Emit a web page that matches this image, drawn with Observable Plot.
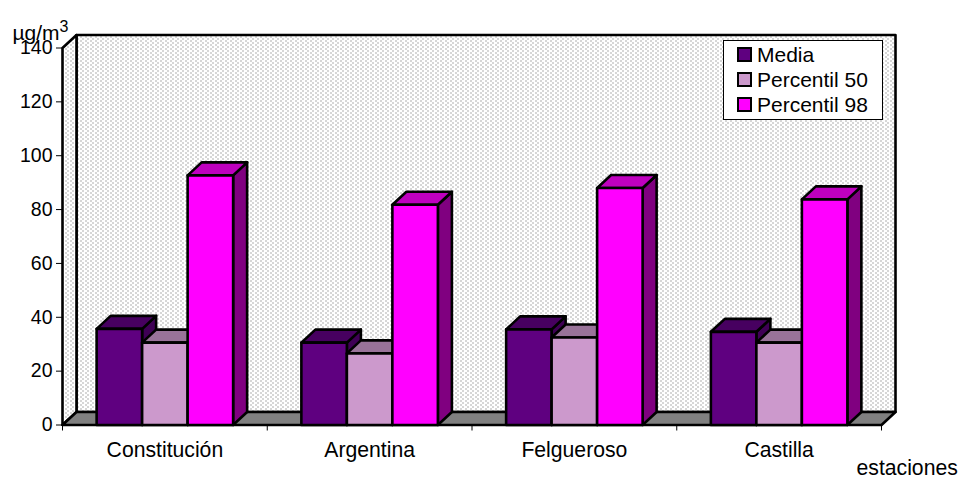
<!DOCTYPE html>
<html>
<head>
<meta charset="utf-8">
<script src="https://cdn.jsdelivr.net/npm/d3@7"></script>
<script src="https://cdn.jsdelivr.net/npm/@observablehq/plot@0.6"></script>
<style>
  html, body { margin: 0; padding: 0; background: #fff; }
  #wrap { position: relative; width: 961px; height: 479px; overflow: hidden; font-family: "Liberation Sans", Arial, sans-serif; color: #000; }
  #legend { position: absolute; left: 723px; top: 40px; width: 160px; height: 80px; box-sizing: border-box;
            border: 1px solid #000; background: #fff; font-size: 21px; padding: 1px 0 0 13px; }
  #legend div { display: flex; align-items: center; height: 25.2px; }
  #legend i { width: 11px; height: 11px; border: 2px solid #000; margin-right: 5px; box-sizing: content-box; display: inline-block; flex: none; }
  svg text { font-family: "Liberation Sans", Arial, sans-serif; }
</style>
</head>
<body>
<div id="wrap"><div id="chart"></div><div id="legend"></div></div>
<script>
const stations = ["Constitución", "Argentina", "Felgueroso", "Castilla"];
const seriesNames = ["Media", "Percentil 50", "Percentil 98"];
const media = [35.7, 30.6, 35.5, 34.6];
const percentil50 = [30.6, 26.6, 32.5, 30.6];
const percentil98 = [92.7, 81.8, 88, 83.8];
const frontColors = ["#5f0080", "#cc99cc", "#ff00ff"];
const topColors = ["#470060", "#997399", "#bf00bf"];
const sideColors = ["#3f0055", "#886688", "#800080"];
const yTicks = [0, 20, 40, 60, 80, 100, 120, 140];

const values = [media, percentil50, percentil98];
const depthX = 14 / 204.75, depthY = 13 / 2.693;  // oblique offset, in data units
const barW = 45.5 / 204.75, pad = (1 - 3 * barW) / 2;
const yMax = 140;
const lineW = 2.6;

const polys = [];
const add = (id, fill, pts) => pts.forEach(([x, y]) => polys.push({id, fill, x, y}));

const walls = [];
const addW = (id, pts) => pts.forEach(([x, y]) => walls.push({id, x, y}));
addW("back", [[depthX, depthY], [4 + depthX, depthY], [4 + depthX, yMax + depthY], [depthX, yMax + depthY]]);
addW("side", [[0, 0], [depthX, depthY], [depthX, yMax + depthY], [0, yMax]]);

const floor = [[0, 0], [depthX, depthY], [4 + depthX, depthY], [4, 0]].map(([x, y]) => ({x, y}));

stations.forEach((st, i) => {
  values.forEach((vals, s) => {
    const x0 = i + pad + s * barW, x1 = x0 + barW, v = vals[i];
    add(`${st}-${s}-side`, sideColors[s], [[x1, 0], [x1 + depthX, depthY], [x1 + depthX, v + depthY], [x1, v]]);
    add(`${st}-${s}-top`, topColors[s], [[x0, v], [x0 + depthX, v + depthY], [x1 + depthX, v + depthY], [x1, v]]);
    add(`${st}-${s}-front`, frontColors[s], [[x0, 0], [x1, 0], [x1, v], [x0, v]]);
  });
});

const chart = Plot.plot({
  width: 961,
  height: 479,
  marginLeft: 62, marginRight: 80, marginTop: 34, marginBottom: 54.5,
  style: {background: "transparent", overflow: "visible"},
  x: {domain: [0, 4], range: [62, 881]},
  y: {domain: [0, yMax], range: [424.5, 47.5]},
  marks: [
    Plot.line(walls, {x: "x", y: "y", z: "id", fill: "url(#dots)", stroke: "#000", strokeWidth: lineW, curve: "linear-closed"}),
    Plot.line(floor, {x: "x", y: "y", fill: "#808080", stroke: "#000", strokeWidth: lineW, curve: "linear-closed"}),
    Plot.axisX({ticks: [0, 1, 2, 3, 4], tickFormat: () => "", tickSize: 6, label: null, stroke: "#000", strokeOpacity: 1}),
    Plot.axisY({ticks: yTicks, tickSize: 6, tickPadding: 4, label: null, fontSize: 19.5, stroke: "#000", strokeOpacity: 1}),
    Plot.line(polys, {x: "x", y: "y", z: "id", fill: "fill", stroke: "#000", strokeWidth: lineW, curve: "linear-closed"}),
    Plot.text(stations, {x: (d, i) => i + 0.5, y: 0, text: d => d, dy: 25, fontSize: 21.2, fill: "#000", lineAnchor: "middle"}),
    Plot.text(["µg/m3"], {x: 0, y: yMax, text: d => d, dx: -50, dy: -15, fontSize: 21, fill: "#000", textAnchor: "start", lineAnchor: "middle", className: "unit"}),
    Plot.text(["estaciones"], {x: 4, y: 0, text: d => d, dx: -25, dy: 43, fontSize: 21.2, fill: "#000", textAnchor: "start", lineAnchor: "middle"})
  ]
});

// Raise the exponent of the unit label
d3.select(chart).selectAll(".unit text").each(function () {
  const t = d3.select(this);
  const full = t.text();
  t.text(null);
  t.append("tspan").text(full.slice(0, -1));
  t.append("tspan").attr("dy", -8).attr("font-size", 16).text(full.slice(-1));
});

// Dotted wall fill
const defs = d3.select(chart).insert("defs", ":first-child");
const pat = defs.append("pattern").attr("id", "dots").attr("patternUnits", "userSpaceOnUse").attr("width", 5).attr("height", 4);
pat.append("rect").attr("width", 5).attr("height", 4).attr("fill", "#fff");
pat.append("rect").attr("x", 0).attr("y", 0).attr("width", 1).attr("height", 1).attr("fill", "#606060");
pat.append("rect").attr("x", 2).attr("y", 2).attr("width", 1).attr("height", 1).attr("fill", "#606060");

document.getElementById("chart").appendChild(chart);

const legend = document.getElementById("legend");
seriesNames.forEach((name, i) => {
  const row = document.createElement("div");
  const sw = document.createElement("i");
  sw.style.background = frontColors[i];
  row.appendChild(sw);
  row.appendChild(document.createTextNode(name));
  legend.appendChild(row);
});
</script>
</body>
</html>
